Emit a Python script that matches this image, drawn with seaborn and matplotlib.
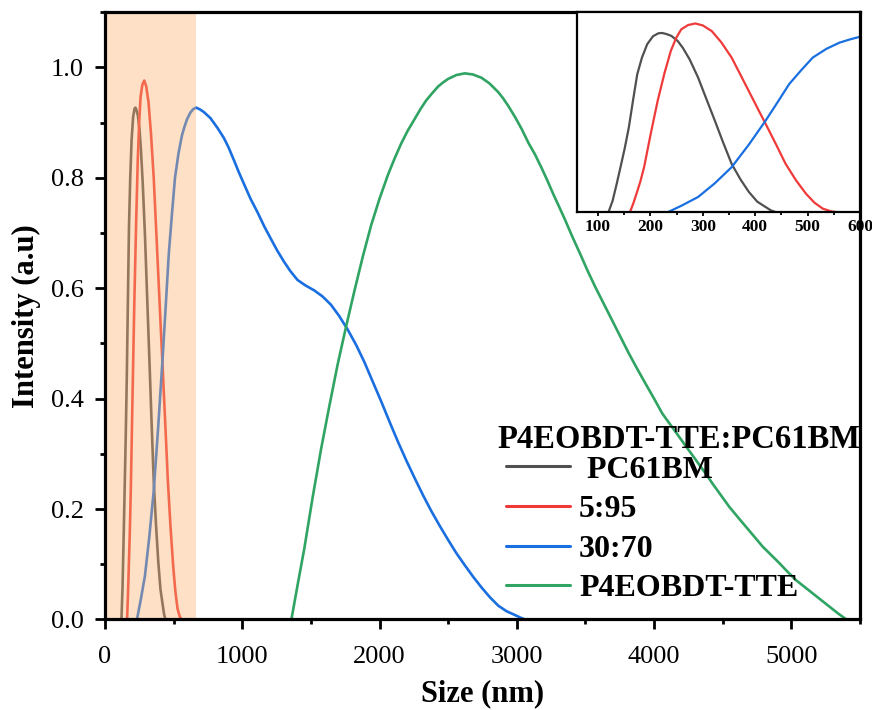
import numpy as np
import pandas as pd
import matplotlib
matplotlib.use("Agg")
import matplotlib.pyplot as plt
import seaborn as sns
from matplotlib.ticker import MultipleLocator
from matplotlib.lines import Line2D

sns.set_theme(style="ticks")
plt.rcParams["font.family"] = ["Liberation Serif", "DejaVu Serif"]
plt.rcParams.update({"text.color": "black", "axes.labelcolor": "black",
                     "xtick.color": "black", "ytick.color": "black"})

# ---------------- data ----------------
labels = [" PC61BM", "5:95", "30:70", "P4EOBDT-TTE"]
legend_title = "P4EOBDT-TTE:PC61BM"
colors = ["#505050", "#f03a3a", "#1a6fe0", "#30a463"]

pc_x = [120, 128, 136, 143, 151, 159, 167, 175, 184, 194, 205, 215, 222, 230, 240, 252, 262, 275, 291, 307, 323, 339, 355,
        372, 388, 404, 420, 430, 440]
pc_y = [0.0, 0.06, 0.15, 0.233, 0.33, 0.44, 0.58, 0.714, 0.80, 0.869, 0.91, 0.925, 0.927, 0.922, 0.912, 0.886, 0.85, 0.79,
        0.697, 0.585, 0.474, 0.36, 0.251, 0.17, 0.105, 0.055, 0.027, 0.01, 0.0]

r_x = [161, 168, 174, 181, 188, 201, 214, 227, 239, 249, 259, 272, 286, 300, 317, 335, 355, 374, 394, 407, 420, 440, 458,
       478, 497, 513, 529, 545, 558]
r_y = [0.0, 0.05, 0.10, 0.16, 0.233, 0.41, 0.577, 0.72, 0.834, 0.90, 0.946, 0.968, 0.976, 0.966, 0.937, 0.88, 0.80, 0.70,
       0.594, 0.525, 0.457, 0.35, 0.251, 0.165, 0.096, 0.05, 0.019, 0.005, 0.0]

b_x = [233, 260, 291, 323, 355, 388, 420, 443, 465, 488, 510, 536, 561, 580, 598, 622, 642, 663, 690, 720, 768, 820, 866,
       900, 939, 975, 1012, 1060, 1110, 1160, 1207, 1255, 1304, 1350, 1402, 1460, 1524, 1585, 1646, 1705, 1768, 1830,
       1890, 1950, 2012, 2073, 2134, 2195, 2256, 2317, 2378, 2440, 2500, 2560, 2622, 2683, 2743, 2805, 2865, 2925, 2987,
       3030, 3060]
b_y = [0.0, 0.035, 0.079, 0.15, 0.233, 0.35, 0.474, 0.57, 0.663, 0.735, 0.80, 0.845, 0.877, 0.893, 0.906, 0.918, 0.924,
       0.927, 0.924, 0.919, 0.908, 0.89, 0.872, 0.855, 0.832, 0.81, 0.789, 0.762, 0.738, 0.712, 0.69, 0.668, 0.648, 0.631,
       0.615, 0.605, 0.596, 0.585, 0.570, 0.550, 0.525, 0.497, 0.466, 0.431, 0.395, 0.358, 0.322, 0.288, 0.256, 0.225,
       0.196, 0.169, 0.144, 0.12, 0.098, 0.077, 0.058, 0.04, 0.025, 0.015, 0.008, 0.003, 0.0]

g_x = [1358, 1405, 1451, 1512, 1573, 1634, 1695, 1756, 1817, 1878, 1939, 2000, 2061, 2110, 2158, 2205, 2255, 2300, 2340,
       2380, 2426, 2465, 2500, 2560, 2621, 2680, 2743, 2800, 2865, 2900, 2938, 2987, 3036, 3085, 3133, 3180, 3219, 3270,
       3300, 3353, 3405, 3460, 3515, 3572, 3633, 3694, 3755, 3816, 3877, 3938, 4000, 4060, 4121, 4182, 4243, 4304, 4365,
       4426, 4487, 4548, 4608, 4669, 4730, 4791, 4852, 4913, 4974, 5035, 5096, 5157, 5218, 5279, 5340, 5401]
g_y = [0.0, 0.065, 0.127, 0.22, 0.307, 0.386, 0.462, 0.530, 0.595, 0.657, 0.714, 0.762, 0.805, 0.835, 0.862, 0.885, 0.906,
       0.925, 0.94, 0.952, 0.965, 0.973, 0.979, 0.986, 0.989, 0.987, 0.981, 0.971, 0.955, 0.944, 0.93, 0.91, 0.888, 0.863,
       0.842, 0.818, 0.797, 0.768, 0.752, 0.723, 0.693, 0.663, 0.632, 0.602, 0.572, 0.542, 0.512, 0.482, 0.454, 0.427, 0.40,
       0.373, 0.352, 0.331, 0.31, 0.289, 0.268, 0.246, 0.225, 0.204, 0.186, 0.168, 0.15, 0.132, 0.117, 0.102, 0.086, 0.071,
       0.059, 0.047, 0.035, 0.023, 0.011, 0.0]

series_x = [pc_x, r_x, b_x, g_x]
series_y = [pc_y, r_y, b_y, g_y]

df = pd.concat(
    [pd.DataFrame({"size": x, "intensity": y, "sample": lab}) for x, y, lab in zip(series_x, series_y, labels)],
    ignore_index=True,
)
palette = dict(zip(labels, colors))

# ---------------- figure ----------------
fig = plt.figure(figsize=(8.72, 7.10), dpi=100)
ax = fig.add_axes([0.1204, 0.1275, 0.8658, 0.8555])

sns.lineplot(data=df, x="size", y="intensity", hue="sample", palette=palette,
             estimator=None, sort=False, lw=1.9, ax=ax, legend=False)
ax.axvspan(0, 660, color="#fab26e", alpha=0.4, lw=0, zorder=3)

ax.set_xlim(0, 5500)
ax.set_ylim(0, 1.1)
ax.xaxis.set_major_locator(MultipleLocator(1000))
ax.xaxis.set_minor_locator(MultipleLocator(500))
ax.yaxis.set_major_locator(MultipleLocator(0.2))
ax.yaxis.set_minor_locator(MultipleLocator(0.1))
ax.yaxis.set_major_formatter(matplotlib.ticker.FormatStrFormatter("%.1f"))
ax.tick_params(which="major", direction="out", length=7, width=2, labelsize=19, color="black")
ax.tick_params(axis="x", which="major", pad=12)
ax.tick_params(axis="y", which="major", pad=8)
ax.tick_params(which="minor", direction="out", length=3.5, width=2, color="black")
for s in ax.spines.values():
    s.set_linewidth(2.3)
    s.set_color("black")
    s.set_zorder(5)

ax.set_xlabel("Size (nm)", fontsize=22, fontweight="bold", labelpad=8)
ax.set_ylabel("Intensity (a.u)", fontsize=22, fontweight="bold", labelpad=7)

handles = [Line2D([], [], color=c, lw=2.2) for c in colors]
leg = ax.legend(handles, labels, title=legend_title, loc="upper left",
                bbox_to_anchor=(0.52, 0.321), frameon=False,
                prop={"weight": "bold", "size": 23},
                title_fontproperties={"weight": "bold", "size": 23.5},
                handlelength=2.0, handletextpad=0.3, labelspacing=0.32,
                borderpad=0, borderaxespad=0)
leg._legend_box.align = "left"
# indent the entries slightly under the title and tighten title gap
leg._legend_handle_box.pad = 5.8
leg._legend_box.sep = -6.0

# ---------------- inset ----------------
ins = fig.add_axes([0.6617, 0.701, 0.9862 - 0.6617, 0.983 - 0.701])
ins.set_facecolor("white")
sns.lineplot(data=df[df["sample"] != labels[3]], x="size", y="intensity", hue="sample",
             palette=palette, estimator=None, sort=False, lw=1.6, ax=ins, legend=False)
ins.set_xlim(60, 600)
ins.set_ylim(0, 1.035)
ins.set_xlabel("")
ins.set_ylabel("")
ins.set_yticks([])
ins.xaxis.set_major_locator(MultipleLocator(100))
ins.xaxis.set_minor_locator(MultipleLocator(50))
ins.tick_params(which="major", direction="out", length=3, width=1.3, labelsize=12.5, pad=2)
ins.tick_params(which="minor", direction="out", length=2, width=1.3)
for lab in ins.get_xticklabels():
    lab.set_fontweight("bold")
for s in ins.spines.values():
    s.set_linewidth(1.6)
    s.set_color("black")

fig.savefig("out.png", dpi=100)
